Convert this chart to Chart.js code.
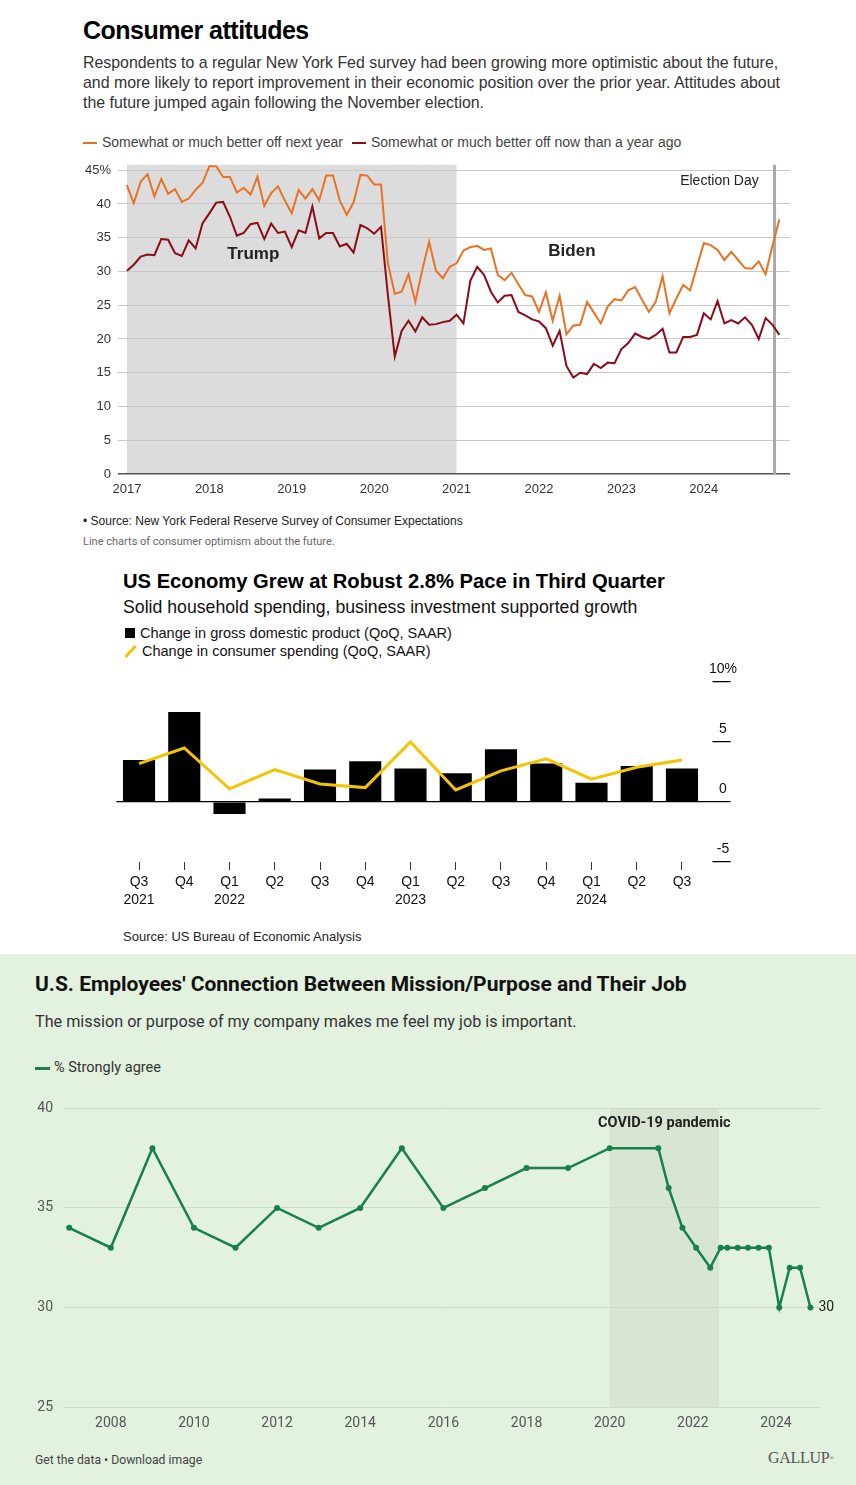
<!DOCTYPE html>
<html>
<head>
<meta charset="utf-8">
<script src="https://cdn.jsdelivr.net/npm/chart.js@4.4.1/dist/chart.umd.min.js"></script>
<style>
  body { margin: 0; background: #fff; }
  #page { position: relative; width: 856px; height: 1485px; overflow: hidden; font-family: "Liberation Sans", Arial, sans-serif; }
  .t { position: absolute; white-space: nowrap; }
  canvas { position: absolute; left: 0; }
  #gallupBg { position: absolute; left: 0; top: 954px; width: 856px; height: 531px; background: #e3f1df; }
  .g { font-family: Roboto, sans-serif; }
</style>
</head>
<body>
<div id="page">
  <!-- consumer attitudes -->
  <div class="t" style="left:83px;top:15px;font-size:25px;line-height:30px;font-weight:bold;letter-spacing:-0.5px;color:#000">Consumer attitudes</div>
  <div class="t" style="left:83px;top:53px;font-size:15.9px;line-height:20px;color:#333">Respondents to a regular New York Fed survey had been growing more optimistic about the future,<br>and more likely to report improvement in their economic position over the prior year. Attitudes about<br>the future jumped again following the November election.</div>
  <div class="t" style="left:83px;top:142px;width:14px;height:2px;background:#ea7125"></div>
  <div class="t" style="left:102px;top:134px;font-size:14px;line-height:16px;color:#444">Somewhat or much better off next year</div>
  <div class="t" style="left:352px;top:142px;width:14px;height:2px;background:#8b0b17"></div>
  <div class="t" style="left:371px;top:134px;font-size:14px;line-height:16px;color:#444">Somewhat or much better off now than a year ago</div>
  <canvas id="attitudes" width="856" height="360" style="top:150px"></canvas>
  <div class="t" style="left:83px;top:513px;font-size:12px;line-height:16px;color:#222">&#8226; Source: New York Federal Reserve Survey of Consumer Expectations</div>
  <div class="t g" style="left:83px;top:535px;font-size:11px;line-height:14px;color:#666">Line charts of consumer optimism about the future.</div>

  <!-- gdp -->
  <div class="t" style="left:123px;top:569px;font-size:20.2px;line-height:24px;font-weight:bold;color:#000">US Economy Grew at Robust 2.8% Pace in Third Quarter</div>
  <div class="t" style="left:123px;top:596px;font-size:17.7px;line-height:22px;color:#111">Solid household spending, business investment supported growth</div>
  <div class="t" style="left:125px;top:628px;width:10px;height:10px;background:#000"></div>
  <div class="t" style="left:140px;top:624px;font-size:14.5px;line-height:18px;color:#111">Change in gross domestic product (QoQ, SAAR)</div>
  <div class="t" style="left:123px;top:650px;width:15px;height:3px;background:#f5c400;transform:rotate(-48deg)"></div>
  <div class="t" style="left:142px;top:642px;font-size:14.5px;line-height:18px;color:#111">Change in consumer spending (QoQ, SAAR)</div>
  <canvas id="gdp" width="856" height="260" style="top:660px"></canvas>
  <div class="t" style="left:123px;top:929px;font-size:13px;line-height:16px;color:#222">Source: US Bureau of Economic Analysis</div>

  <!-- gallup -->
  <div id="gallupBg"></div>
  <div class="t g" style="left:35px;top:972px;font-size:21px;line-height:24px;font-weight:bold;color:#111">U.S. Employees' Connection Between Mission/Purpose and Their Job</div>
  <div class="t g" style="left:35px;top:1011px;font-size:16.2px;line-height:22px;color:#333">The mission or purpose of my company makes me feel my job is important.</div>
  <div class="t" style="left:35px;top:1067px;width:15px;height:2.5px;background:#17804b"></div>
  <div class="t g" style="left:54px;top:1059px;font-size:14.5px;line-height:18px;color:#333">% Strongly agree</div>
  <canvas id="gallup" width="856" height="350" style="top:1090px"></canvas>
  <div class="t g" style="left:35px;top:1452px;font-size:12.2px;line-height:16px;color:#444">Get the data &#8226; Download image</div>
  <div class="t" style="left:768px;top:1448px;font-family:'Liberation Serif',serif;font-size:16px;line-height:20px;color:#555;letter-spacing:-0.3px">GALLUP<span style="font-size:6px;vertical-align:top">&#174;</span></div>
</div>

<script>
// ---- consumer attitudes (monthly, Jan 2017 - Dec 2024)
const yearLabels = ["2017", "2018", "2019", "2020", "2021", "2022", "2023", "2024"];
const attitudeTicks = [0, 5, 10, 15, 20, 25, 30, 35, 40, 45];
const futureBetterOff = [
	42.8, 40.1, 43.3, 44.4, 41.1, 43.7, 41.5, 42.2, 40.3, 40.8, 42.1, 43.1,
	45.6, 45.6, 44.0, 44.0, 41.7, 42.4, 41.4, 44.0, 39.7, 41.6, 42.6, 40.5,
	38.6, 42.1, 40.8, 42.2, 40.5, 44.2, 44.2, 40.5, 38.4, 40.2, 44.3, 44.2,
	42.9, 42.9, 31.2, 26.7, 27.0, 29.6, 25.5, 30.2, 34.4, 30.1, 29.0, 30.7,
	31.2, 33.1, 33.6, 33.8, 33.2, 33.4, 29.5, 28.7, 29.8, 28.1, 26.5, 26.3,
	24.0, 26.9, 22.7, 26.4, 20.7, 22.0, 22.1, 25.5, 23.9, 22.3, 24.8, 25.9,
	25.7, 27.2, 27.7, 25.8, 24.0, 25.5, 29.3, 23.8, 26.0, 28.0, 27.2, 30.7,
	34.2, 33.9, 33.2, 31.7, 32.9, 31.7, 30.5, 30.4, 31.5, 29.6, 33.8, 37.7,
];
const nowBetterOff = [
	30.1, 31.0, 32.2, 32.5, 32.4, 34.8, 34.7, 32.7, 32.3, 34.6, 33.4, 37.1,
	38.6, 40.2, 40.3, 38.1, 35.3, 35.7, 37.0, 37.2, 34.8, 37.1, 35.7, 35.9,
	33.6, 36.1, 35.7, 39.6, 34.9, 35.7, 35.7, 33.7, 34.1, 32.8, 36.9, 36.4,
	35.6, 36.6, 26.5, 17.4, 21.2, 22.7, 21.1, 23.2, 22.1, 22.2, 22.5, 22.7,
	23.6, 22.3, 28.6, 30.7, 29.5, 27.0, 25.4, 26.4, 26.5, 24.0, 23.5, 22.9,
	22.6, 21.6, 19.0, 21.2, 16.0, 14.3, 15.0, 14.8, 16.3, 15.7, 16.5, 16.4,
	18.5, 19.4, 20.8, 20.3, 20.0, 20.6, 21.5, 18.0, 18.0, 20.3, 20.3, 20.6,
	23.8, 22.9, 25.6, 22.3, 22.8, 22.3, 23.2, 22.1, 20.0, 23.1, 22.1, 20.6,
];
const trumpMonths = [0, 48];
const electionMonth = 94.3;

// ---- gdp (quarterly)
const quarterLabels = [
	["Q3", "2021"], ["Q4", ""], ["Q1", "2022"], ["Q2", ""], ["Q3", ""], ["Q4", ""],
	["Q1", "2023"], ["Q2", ""], ["Q3", ""], ["Q4", ""], ["Q1", "2024"], ["Q2", ""], ["Q3", ""],
];
const gdpChange = [3.5, 7.5, -1.0, 0.3, 2.7, 3.4, 2.8, 2.4, 4.4, 3.2, 1.6, 3.0, 2.8];
const spendingChange = [3.2, 4.5, 1.1, 2.7, 1.5, 1.2, 5.0, 1.0, 2.6, 3.6, 1.9, 2.9, 3.5];
const gdpTicks = [-5, 0, 5, 10];

// ---- gallup
const surveyYears = [
	2007, 2008, 2009, 2010, 2011, 2012, 2013, 2014, 2015, 2016, 2017, 2018, 2019, 2020,
	2021.17, 2021.42, 2021.75, 2022.08, 2022.42, 2022.67, 2022.83, 2023.08, 2023.33,
	2023.58, 2023.83, 2024.08, 2024.33, 2024.58, 2024.83,
];
const strongAgree = [
	34, 33, 38, 34, 33, 35, 34, 35, 38, 35, 36, 37, 37, 38,
	38, 36, 34, 33, 32, 33, 33, 33, 33, 33, 33, 30, 32, 32, 30,
];
const gallupYearTicks = [2008, 2010, 2012, 2014, 2016, 2018, 2020, 2022, 2024];
const gallupTicks = [25, 30, 35, 40];
const covidYears = [2020, 2022.63];

var sans = "'Liberation Sans', Arial, sans-serif";

var attitudesPlugin = {
	id: "attitudesMarks",
	beforeDraw: function (chart) {
		var ctx = chart.ctx, a = chart.chartArea, x = chart.scales.x, y = chart.scales.y;
		var x0 = x.getPixelForValue(trumpMonths[0]), x1 = x.getPixelForValue(trumpMonths[1]);
		ctx.save();
		ctx.fillStyle = "#dcdcdc";
		ctx.fillRect(x0, a.top, x1 - x0, y.getPixelForValue(0) - a.top);
		ctx.restore();
	},
	beforeDatasetsDraw: function (chart) {
		var ctx = chart.ctx, a = chart.chartArea, x = chart.scales.x, y = chart.scales.y;
		var ex = x.getPixelForValue(electionMonth);
		ctx.save();
		ctx.strokeStyle = "#aaaaaa";
		ctx.lineWidth = 3;
		ctx.beginPath();
		ctx.moveTo(ex, a.top);
		ctx.lineTo(ex, y.getPixelForValue(0));
		ctx.stroke();
		ctx.restore();
	},
	afterDatasetsDraw: function (chart) {
		var ctx = chart.ctx, x = chart.scales.x, y = chart.scales.y;
		ctx.save();
		ctx.fillStyle = "#222";
		ctx.textBaseline = "middle";
		ctx.textAlign = "center";
		ctx.font = "bold 17px " + sans;
		ctx.fillText("Trump", x.getPixelForValue(18.4), y.getPixelForValue(32.6));
		ctx.fillText("Biden", x.getPixelForValue(64.8), y.getPixelForValue(33));
		ctx.font = "14px " + sans;
		ctx.textAlign = "right";
		ctx.fillText("Election Day", x.getPixelForValue(92), y.getPixelForValue(43.4));
		ctx.restore();
	},
};

new Chart(document.getElementById("attitudes"), {
	type: "line",
	data: {
		datasets: [
			{
				data: futureBetterOff.map(function (v, i) { return { x: i, y: v }; }),
				borderColor: "#ea7125",
				borderWidth: 2,
			},
			{
				data: nowBetterOff.map(function (v, i) { return { x: i, y: v }; }),
				borderColor: "#8b0b17",
				borderWidth: 2,
			},
		],
	},
	options: {
		responsive: false,
		animation: false,
		layout: { padding: { left: 0, right: 66, top: 14.6, bottom: 0 } },
		elements: { point: { radius: 0 }, line: { tension: 0 } },
		plugins: { legend: { display: false }, tooltip: { enabled: false } },
		scales: {
			x: {
				type: "linear",
				min: -1.3,
				max: 96.55,
				grid: { display: false, drawTicks: false },
				border: { display: false },
				afterBuildTicks: function (s) {
					s.ticks = yearLabels.map(function (_, i) { return { value: i * 12 }; });
				},
				ticks: {
					autoSkip: false,
					maxRotation: 0,
					padding: 8,
					color: "#333",
					font: { family: sans, size: 13 },
					callback: function (v) { return yearLabels[Math.round(v / 12)]; },
				},
				afterFit: function (s) { s.height = 36; },
			},
			y: {
				min: 0,
				max: 45.8,
				afterBuildTicks: function (s) {
					s.ticks = attitudeTicks.map(function (v) { return { value: v }; });
				},
				grid: {
					drawTicks: false,
					color: function (c) { return c.tick && c.tick.value === 0 ? "#555" : "#c9c9c9"; },
					lineWidth: function (c) { return c.tick && c.tick.value === 0 ? 1.5 : 1; },
				},
				border: { display: false },
				ticks: {
					padding: 7,
					color: "#333",
					font: { family: sans, size: 13 },
					callback: function (v) { return v === 45 ? "45%" : v; },
				},
				afterFit: function (s) { s.width = 118; },
			},
		},
	},
	plugins: [attitudesPlugin],
});

new Chart(document.getElementById("gdp"), {
	type: "bar",
	data: {
		labels: quarterLabels,
		datasets: [
			{
				type: "line",
				data: spendingChange,
				borderColor: "#f5c400",
				borderWidth: 3,
				pointRadius: 0,
				tension: 0,
				order: 0,
			},
			{
				type: "bar",
				data: gdpChange,
				backgroundColor: "#000",
				barPercentage: 0.71,
				categoryPercentage: 1,
				order: 1,
			},
		],
	},
	options: {
		responsive: false,
		animation: false,
		layout: { padding: { left: 116.4, right: 0, top: 22, bottom: 0 } },
		plugins: { legend: { display: false }, tooltip: { enabled: false } },
		scales: {
			x: {
				grid: { offset: false, drawOnChartArea: false, drawTicks: true, tickLength: 8, tickColor: "#333" },
				border: { display: false },
				ticks: {
					autoSkip: false,
					maxRotation: 0,
					padding: 3,
					color: "#111",
					font: { family: sans, size: 14, lineHeight: 1.2857 },
				},
				afterFit: function (s) { s.height = 58; },
			},
			y: {
				position: "right",
				min: -5,
				max: 10,
				afterBuildTicks: function (s) {
					s.ticks = gdpTicks.map(function (v) { return { value: v }; });
				},
				grid: {
					color: function (c) { return c.tick && c.tick.value === 0 ? "#000" : "rgba(0,0,0,0)"; },
					lineWidth: 1.2,
					tickLength: 26,
					tickColor: "#000",
					tickWidth: 1.2,
					tickBorderDash: function (c) { return c.tick && c.tick.value === 0 ? [] : [0, 7.4, 100]; },
				},
				border: { display: false },
				ticks: {
					crossAlign: "center",
					padding: -21.6,
					labelOffset: -13,
					color: "#111",
					font: { family: sans, size: 14 },
					callback: function (v) { return v === 10 ? "10%" : v; },
				},
				afterFit: function (s) { s.width = 151.4; },
			},
		},
	},
});

var gallupPlugin = {
	id: "gallupMarks",
	beforeDraw: function (chart) {
		var ctx = chart.ctx, a = chart.chartArea, x = chart.scales.x;
		var x0 = x.getPixelForValue(covidYears[0]), x1 = x.getPixelForValue(covidYears[1]);
		ctx.save();
		ctx.fillStyle = "#d8e5d3";
		ctx.fillRect(x0, a.top, x1 - x0, a.bottom - a.top);
		ctx.restore();
	},
	afterDatasetsDraw: function (chart) {
		var ctx = chart.ctx, a = chart.chartArea, x = chart.scales.x, y = chart.scales.y;
		var n = surveyYears.length - 1;
		ctx.save();
		ctx.fillStyle = "#222";
		ctx.textBaseline = "middle";
		ctx.font = "bold 14.5px Roboto, sans-serif";
		ctx.textAlign = "center";
		ctx.fillText("COVID-19 pandemic", x.getPixelForValue((covidYears[0] + covidYears[1]) / 2), a.top + 15);
		ctx.font = "14px Roboto, sans-serif";
		ctx.textAlign = "left";
		ctx.fillText(String(strongAgree[n]), x.getPixelForValue(surveyYears[n]) + 8, y.getPixelForValue(strongAgree[n]));
		ctx.restore();
	},
};

new Chart(document.getElementById("gallup"), {
	type: "line",
	data: {
		datasets: [
			{
				data: surveyYears.map(function (yr, i) { return { x: yr, y: strongAgree[i] }; }),
				borderColor: "#17804b",
				backgroundColor: "#17804b",
				borderWidth: 2.5,
				pointRadius: 3,
				pointBorderWidth: 0,
				tension: 0,
			},
		],
	},
	options: {
		responsive: false,
		animation: false,
		layout: { padding: { left: 0, right: 36, top: 17, bottom: 0 } },
		plugins: { legend: { display: false }, tooltip: { enabled: false } },
		scales: {
			x: {
				type: "linear",
				min: 2006.85,
				max: 2025.06,
				grid: { display: false, drawTicks: false },
				border: { display: false },
				afterBuildTicks: function (s) {
					s.ticks = gallupYearTicks.map(function (v) { return { value: v }; });
				},
				ticks: {
					autoSkip: false,
					maxRotation: 0,
					padding: 7.6,
					color: "#555",
					font: { family: "Roboto, sans-serif", size: 14 },
					callback: function (v) { return String(v); },
				},
				afterFit: function (s) { s.height = 33; },
			},
			y: {
				min: 25,
				max: 40,
				afterBuildTicks: function (s) {
					s.ticks = gallupTicks.map(function (v) { return { value: v }; });
				},
				grid: { drawTicks: false, color: "#cddbc9" },
				border: { display: false },
				ticks: {
					padding: 10,
					color: "#555",
					font: { family: "Roboto, sans-serif", size: 14 },
				},
				afterFit: function (s) { s.width = 63; },
			},
		},
	},
	plugins: [gallupPlugin],
});
</script>
</body>
</html>
